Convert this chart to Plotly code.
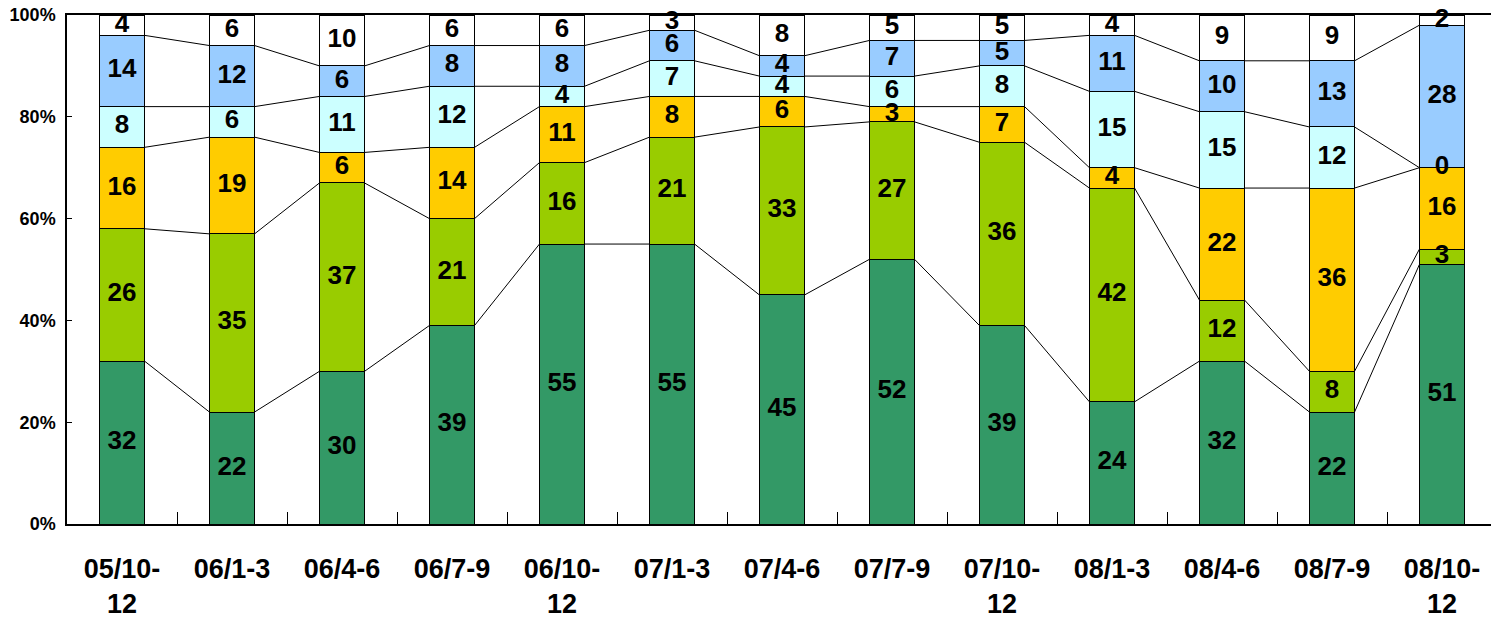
import plotly.graph_objects as go

periods = ["05/10-<br>12", "06/1-3", "06/4-6", "06/7-9", "06/10-<br>12", "07/1-3",
           "07/4-6", "07/7-9", "07/10-<br>12", "08/1-3", "08/4-6", "08/7-9", "08/10-<br>12"]

dark_green = [32, 22, 30, 39, 55, 55, 45, 52, 39, 24, 32, 22, 51]
yellow_green = [26, 35, 37, 21, 16, 21, 33, 27, 36, 42, 12, 8, 3]
orange = [16, 19, 6, 14, 11, 8, 6, 3, 7, 4, 22, 36, 16]
light_cyan = [8, 6, 11, 12, 4, 7, 4, 6, 8, 15, 15, 12, 0]
light_blue = [14, 12, 6, 8, 8, 6, 4, 7, 5, 11, 10, 13, 28]
white = [4, 6, 10, 6, 6, 3, 8, 5, 5, 4, 9, 9, 2]

y_ticks = [0, 20, 40, 60, 80, 100]
y_tick_text = ["0%", "20%", "40%", "60%", "80%", "100%"]

series = [dark_green, yellow_green, orange, light_cyan, light_blue, white]
colors = ["#339966", "#99CC00", "#FFCC00", "#CCFFFF", "#99CCFF", "#FFFFFF"]

FONT = "Arial, 'Liberation Sans', sans-serif"
BAR_W = 0.41
idx = list(range(len(periods)))

fig = go.Figure()

base = [0] * len(idx)
bases = []
for vals, col in zip(series, colors):
    fig.add_trace(go.Bar(
        x=idx, y=vals, width=BAR_W,
        marker=dict(color=col, line=dict(color="black", width=1)),
        showlegend=False, hoverinfo="y",
    ))
    bases.append(list(base))
    base = [b + v for b, v in zip(base, vals)]

# series lines between neighbouring bars
cum = [0] * len(idx)
for vals in series[:-1]:
    cum = [c + v for c, v in zip(cum, vals)]
    xs, ys = [], []
    for i in range(len(idx) - 1):
        xs += [i + BAR_W / 2, i + 1 - BAR_W / 2, None]
        ys += [cum[i], cum[i + 1], None]
    fig.add_trace(go.Scatter(x=xs, y=ys, mode="lines",
                             line=dict(color="black", width=1),
                             showlegend=False, hoverinfo="skip"))

# value labels
for vals, b in zip(series, bases):
    fig.add_trace(go.Scatter(
        x=idx, y=[bb + v / 2 for bb, v in zip(b, vals)],
        mode="text", text=[str(v) for v in vals],
        textfont=dict(family=FONT, size=26, color="black", weight="bold"),
        showlegend=False, hoverinfo="skip", cliponaxis=False,
    ))

# page body adds an 8px margin, so the figure is a bit smaller than the window
fig.update_layout(
    barmode="stack",
    width=1491, height=612,
    margin=dict(l=59, r=2, t=7, b=96, autoexpand=False),
    plot_bgcolor="white", paper_bgcolor="white",
    font=dict(family=FONT, color="black"),
    xaxis=dict(
        range=[-0.5, len(idx) - 0.5], automargin=False,
        tickmode="array", tickvals=idx, ticktext=periods,
        ticks="", showgrid=False, zeroline=False,
        showline=True, linecolor="black", linewidth=1.5, mirror=True,
        tickfont=dict(family=FONT, size=27, weight="bold"),
        ticklabelstandoff=20, ticklabeloverflow="allow",
        minor=dict(tickmode="array", tickvals=[i + 0.5 for i in idx[:-1]],
                   ticks="inside", ticklen=12, tickcolor="black", tickwidth=1),
    ),
    yaxis=dict(
        range=[0, 100], automargin=False,
        tickmode="array", tickvals=y_ticks, ticktext=y_tick_text,
        ticks="inside", ticklen=5, tickcolor="black",
        showgrid=False, zeroline=False,
        showline=True, linecolor="black", linewidth=1.5,
        tickfont=dict(family=FONT, size=18, weight="bold"),
        ticklabelstandoff=6, ticklabeloverflow="allow",
    ),
)

fig.write_html("out.html")
